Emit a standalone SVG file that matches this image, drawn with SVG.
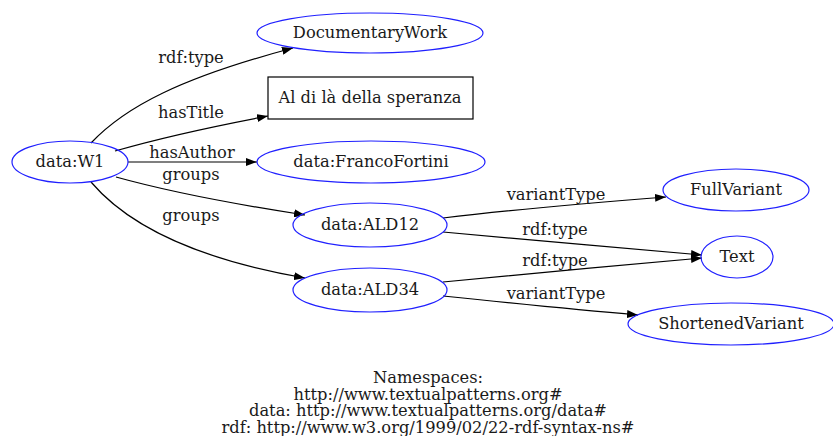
<svg xmlns="http://www.w3.org/2000/svg" width="833" height="436" viewBox="0 0 833 436">
<defs>
<marker id="arr" markerUnits="userSpaceOnUse" markerWidth="12" markerHeight="8" refX="11" refY="4" orient="auto">
<path d="M0,0 L11,4 L0,8 Z" fill="#000"/>
</marker>
</defs>
<style>
text{font-family:"DejaVu Serif","Liberation Serif",serif;font-size:16.3px;fill:#1a1a1a;text-anchor:middle}
.n{fill:none;stroke:#2020ff;stroke-width:1.2}
.r{fill:none;stroke:#000;stroke-width:1.2}
.e{fill:none;stroke:#000;stroke-width:1.2;marker-end:url(#arr)}
</style>
<rect width="833" height="436" fill="#fff"/>
<g id="edges">
<path class="e" d="M91,143 C125,107 180,78 293,48"/>
<path class="e" d="M115,151 C160,138 210,127 268,116"/>
<path class="e" d="M128,162 L257,162"/>
<path class="e" d="M116,177 C170,192 240,205 305,215"/>
<path class="e" d="M91,182 C125,222 190,258 305,278"/>
<path class="e" d="M443,218 C510,210 590,203 666,197"/>
<path class="e" d="M443,232 C520,239 620,248 702,255"/>
<path class="e" d="M443,282 C520,275 620,265 702,258"/>
<path class="e" d="M443,296 C510,303 580,310 638,315"/>
<text x="191" y="63">rdf:type</text>
<text x="191" y="118">hasTitle</text>
<text x="192" y="158">hasAuthor</text>
<text x="191" y="180">groups</text>
<text x="191" y="221">groups</text>
<text x="556" y="200">variantType</text>
<text x="555" y="235">rdf:type</text>
<text x="555" y="266">rdf:type</text>
<text x="556" y="299">variantType</text>
</g>
<g id="W1"><ellipse class="n" cx="70" cy="162" rx="58" ry="21"/><text x="70" y="167">data:W1</text></g>
<g id="DocumentaryWork"><ellipse class="n" cx="370" cy="33" rx="113" ry="20"/><text x="370" y="38">DocumentaryWork</text></g>
<g id="Title"><rect class="r" x="268" y="77" width="205" height="42"/><text x="370" y="103">Al di là della speranza</text></g>
<g id="FrancoFortini"><ellipse class="n" cx="371" cy="162" rx="114" ry="21"/><text x="371" y="167">data:FrancoFortini</text></g>
<g id="ALD12"><ellipse class="n" cx="370" cy="225" rx="77" ry="22"/><text x="370" y="230">data:ALD12</text></g>
<g id="ALD34"><ellipse class="n" cx="370" cy="290" rx="77" ry="22"/><text x="370" y="295">data:ALD34</text></g>
<g id="FullVariant"><ellipse class="n" cx="736" cy="190" rx="73" ry="21"/><text x="736" y="195">FullVariant</text></g>
<g id="Text"><ellipse class="n" cx="737" cy="257" rx="36" ry="21"/><text x="737" y="262">Text</text></g>
<g id="ShortenedVariant"><ellipse class="n" cx="731" cy="324" rx="103" ry="21"/><text x="731" y="329">ShortenedVariant</text></g>
<g id="legend">
<text x="428" y="383">Namespaces:</text>
<text x="428" y="400">http://www.textualpatterns.org#</text>
<text x="428" y="416">data: http://www.textualpatterns.org/data#</text>
<text x="428" y="433">rdf: http://www.w3.org/1999/02/22-rdf-syntax-ns#</text>
</g>
</svg>
